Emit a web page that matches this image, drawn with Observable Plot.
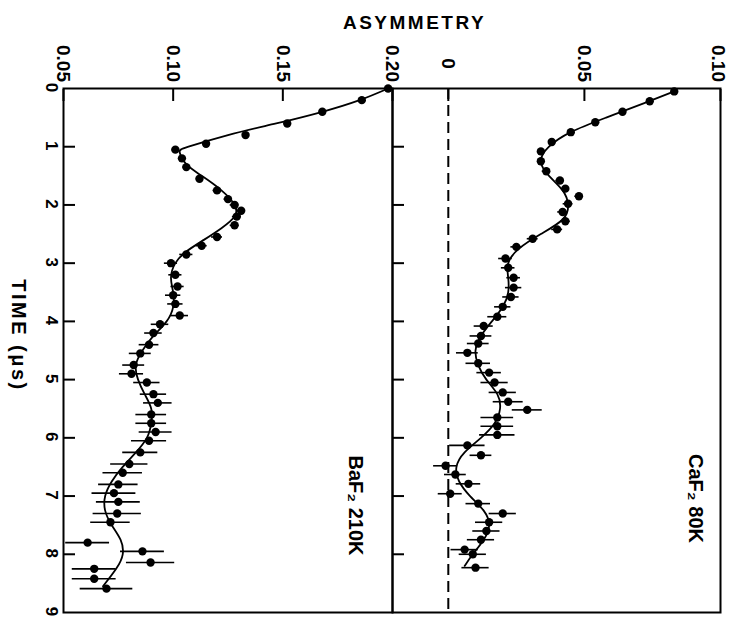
<!DOCTYPE html>
<html>
<head>
<meta charset="utf-8">
<script src="https://cdn.jsdelivr.net/npm/d3@7"></script>
<script src="https://cdn.jsdelivr.net/npm/@observablehq/plot@0.6"></script>
<style>
  html, body { margin: 0; padding: 0; background: #fff; overflow: hidden; }
  #chart { position: relative; width: 729px; height: 618px; }
  #chart svg { position: absolute; left: 0; top: 0; }
</style>
</head>
<body>
<div id="chart"></div>
<script>
// Muon spin asymmetry vs time, BaF2 at 210 K and CaF2 at 80 K

// --- BaF2 210K: measured points (time in µs, asymmetry, error)
const bafTime = [0.00, 0.20, 0.40, 0.60, 0.80, 0.95, 1.05, 1.20, 1.35, 1.55, 1.75, 1.90, 2.00, 2.10, 2.20, 2.35,
  2.55, 2.70, 2.85, 3.00, 3.20, 3.40, 3.55, 3.70, 3.90, 4.05, 4.20, 4.40, 4.55, 4.75, 4.90, 5.05, 5.25, 5.40,
  5.60, 5.75, 5.90, 6.05, 6.25, 6.45, 6.60, 6.80, 6.95, 7.10, 7.30, 7.45, 7.80, 7.95, 8.14, 8.25, 8.42, 8.59];
const bafAsym = [0.198, 0.186, 0.168, 0.152, 0.133, 0.115, 0.101, 0.104, 0.106, 0.112, 0.120, 0.125, 0.128, 0.131, 0.129, 0.128,
  0.120, 0.113, 0.106, 0.099, 0.101, 0.102, 0.100, 0.101, 0.103, 0.094, 0.091, 0.089, 0.085, 0.082, 0.081, 0.088, 0.091, 0.093,
  0.090, 0.090, 0.092, 0.089, 0.085, 0.080, 0.077, 0.075, 0.073, 0.075, 0.0745, 0.0714, 0.061, 0.086, 0.0897, 0.064, 0.064, 0.0696];
const bafErr = [0.001, 0.001, 0.001, 0.0012, 0.0012, 0.0012, 0.0015, 0.0015, 0.0015, 0.0015, 0.0018, 0.0018, 0.002, 0.002, 0.002, 0.002,
  0.0025, 0.0025, 0.003, 0.003, 0.003, 0.003, 0.0035, 0.0035, 0.004, 0.004, 0.004, 0.0045, 0.005, 0.005, 0.0055, 0.006, 0.006, 0.0065,
  0.007, 0.007, 0.0075, 0.008, 0.008, 0.0085, 0.009, 0.009, 0.010, 0.010, 0.011, 0.009, 0.010, 0.010, 0.011, 0.010, 0.010, 0.012];

// --- BaF2 210K: fitted curve
const bafFitTime = [0.00, 0.20, 0.40, 0.60, 0.80, 1.00, 1.10, 1.30, 1.50, 1.75, 2.00, 2.20, 2.40, 2.60, 2.80, 3.00, 3.25,
  3.50, 3.75, 4.00, 4.25, 4.50, 4.75, 5.00, 5.25, 5.50, 5.75, 6.00, 6.25, 6.50, 6.75, 7.00, 7.25, 7.50, 7.75, 8.00, 8.25, 8.55];
const bafFitAsym = [0.198, 0.185, 0.168, 0.147, 0.125, 0.107, 0.103, 0.106, 0.113, 0.122, 0.128, 0.128, 0.122, 0.114, 0.106, 0.101, 0.099,
  0.100, 0.100, 0.097, 0.091, 0.086, 0.083, 0.084, 0.087, 0.090, 0.090, 0.088, 0.083, 0.077, 0.072, 0.069, 0.069, 0.072, 0.076, 0.077, 0.074, 0.068];

// --- CaF2 80K: measured points
const cafTime = [0.05, 0.22, 0.40, 0.58, 0.75, 0.92, 1.08, 1.25, 1.42, 1.58, 1.72, 1.85, 1.98, 2.12, 2.28, 2.42, 2.58, 2.72,
  2.92, 3.08, 3.25, 3.42, 3.58, 3.75, 3.92, 4.08, 4.25, 4.38, 4.54, 4.72, 4.88, 5.05, 5.22, 5.38, 5.52, 5.65, 5.80, 5.95,
  6.13, 6.30, 6.48, 6.63, 6.79, 6.96, 7.13, 7.30, 7.45, 7.60, 7.75, 7.92, 8.00, 8.23];
const cafAsym = [0.083, 0.074, 0.064, 0.054, 0.045, 0.038, 0.034, 0.034, 0.036, 0.041, 0.043, 0.048, 0.044, 0.042, 0.043, 0.040, 0.031, 0.025,
  0.021, 0.022, 0.024, 0.024, 0.023, 0.020, 0.018, 0.013, 0.012, 0.011, 0.007, 0.011, 0.015, 0.017, 0.020, 0.022, 0.029, 0.018, 0.018, 0.018,
  0.007, 0.012, -0.001, 0.0026, 0.0074, 0.0007, 0.011, 0.020, 0.015, 0.014, 0.012, 0.006, 0.009, 0.010];
const cafErr = [0.001, 0.001, 0.001, 0.001, 0.0012, 0.0012, 0.0012, 0.0012, 0.0015, 0.0015, 0.0015, 0.0015, 0.0018, 0.0018, 0.0018, 0.002, 0.002, 0.002,
  0.0025, 0.0025, 0.0025, 0.003, 0.003, 0.003, 0.0035, 0.0035, 0.004, 0.004, 0.004, 0.0045, 0.0045, 0.005, 0.005, 0.0055, 0.0055, 0.006, 0.006, 0.0065,
  0.0065, 0.004, 0.0044, 0.004, 0.0045, 0.0044, 0.0045, 0.005, 0.005, 0.005, 0.005, 0.005, 0.005, 0.005];

// --- CaF2 80K: fitted curve
const cafFitTime = [0.05, 0.25, 0.50, 0.75, 1.00, 1.25, 1.50, 1.75, 2.00, 2.25, 2.50, 2.75, 3.00, 3.25, 3.50, 3.75, 4.00,
  4.25, 4.50, 4.75, 5.00, 5.25, 5.50, 5.75, 6.00, 6.25, 6.50, 6.75, 7.00, 7.25, 7.50, 7.75, 8.00, 8.20];
const cafFitAsym = [0.083, 0.072, 0.058, 0.045, 0.037, 0.034, 0.037, 0.042, 0.044, 0.042, 0.034, 0.026, 0.022, 0.022, 0.022, 0.020, 0.016,
  0.012, 0.010, 0.011, 0.014, 0.018, 0.019, 0.017, 0.012, 0.006, 0.003, 0.004, 0.008, 0.013, 0.015, 0.013, 0.009, 0.006];

// --- axis ticks and labels
const timeTicks = [0, 1, 2, 3, 4, 5, 6, 7, 8, 9];
const timeLabels = ["0", "1", "2", "3", "4", "5", "6", "7", "8", "9"];
const bafTicks = [0.05, 0.10, 0.15, 0.20];
const bafLabels = ["0.05", "0.10", "0.15", "0.20"];
const cafTicks = [0, 0.05, 0.10];
const cafLabels = ["0", "0.05", "0.10"];
const bafDomain = [0.05, 0.20];
const cafDomain = [-0.0205, 0.10];

const bafPoints = bafTime.map((t, i) => ({t, a: bafAsym[i], e: bafErr[i]}));
const bafFit = bafFitTime.map((t, i) => ({t, a: bafFitAsym[i]}));
const cafPoints = cafTime.map((t, i) => ({t, a: cafAsym[i], e: cafErr[i]}));
const cafFit = cafFitTime.map((t, i) => ({t, a: cafFitAsym[i]}));
const cafTickItems = cafTicks.map((v, i) => ({v, label: cafLabels[i], edge: i === cafTicks.length - 1}));

const W = 729, H = 618;
const font = "'Liberation Sans', Arial, Helvetica, sans-serif";
const centered = {textAnchor: "middle", lineAnchor: "middle"};

function panel({domain, marginLeft, marginRight, marks}) {
  return Plot.plot({
    width: W, height: H,
    marginTop: 88, marginBottom: 6, marginLeft, marginRight,
    x: {domain},
    y: {domain: [0, 9], reverse: true},
    style: {background: "transparent", fontFamily: font, fontWeight: "bold", color: "black", overflow: "visible"},
    marks
  });
}

function dataMarks(points, fit) {
  return [
    Plot.ruleY(points, {y: "t", x1: d => d.a - d.e, x2: d => d.a + d.e, strokeWidth: 1.6}),
    Plot.line(fit, {x: "a", y: "t", curve: "natural", strokeWidth: 1.8}),
    Plot.dot(points, {x: "a", y: "t", r: 4.2, fill: "black"})
  ];
}

// left panel: BaF2 210K, with the time axis
const left = panel({
  domain: bafDomain, marginLeft: 63, marginRight: W - 392,
  marks: [
    Plot.axisX(bafTicks, {anchor: "top", tickSize: 12, dy: 12, tickFormat: () => "", label: null, strokeWidth: 2}),
    Plot.axisY(timeTicks.slice(1, -1), {anchor: "left", tickSize: 12, dx: 12, tickFormat: () => "", label: null, strokeWidth: 2}),
    Plot.text(bafTicks, {x: d => d, frameAnchor: "top", dy: -25, rotate: 90, text: (d, i) => bafLabels[i], fontSize: 19, ...centered}),
    Plot.text(timeTicks, {y: d => d, frameAnchor: "left", dx: -12, dy: -1, rotate: 90, text: (d, i) => timeLabels[i], fontSize: 17, ...centered}),
    Plot.text(["TIME (\u03bcs)"], {frameAnchor: "left", dx: -45, dy: -15, rotate: 90, fontSize: 20, ...centered}),
    Plot.text(["BaF\u2082 210K"], {frameAnchor: "right", dx: -37, dy: 155, rotate: 90, fontSize: 20, ...centered}),
    ...dataMarks(bafPoints, bafFit),
    Plot.frame({strokeWidth: 2})
  ]
});

// right panel: CaF2 80K, with the dashed zero line
const right = panel({
  domain: cafDomain, marginLeft: 392, marginRight: 9,
  marks: [
    Plot.ruleX([0], {strokeDasharray: "11,6", strokeWidth: 2}),
    Plot.axisX(cafTicks, {anchor: "top", tickSize: 12, dy: 12, tickFormat: () => "", label: null, strokeWidth: 2}),
    Plot.axisY(timeTicks.slice(1, -1), {anchor: "left", tickSize: 12, dx: 12, tickFormat: () => "", label: null, strokeWidth: 2}),
    Plot.text(cafTickItems.filter(d => !d.edge), {x: "v", frameAnchor: "top", dy: -25, rotate: 90, text: "label", fontSize: 19, ...centered}),
    // the label at the panel's right edge sits a touch inside the page
    Plot.text(cafTickItems.filter(d => d.edge), {x: "v", frameAnchor: "top", dx: -2, dy: -25, rotate: 90, text: "label", fontSize: 19, ...centered}),
    Plot.text(["ASYMMETRY"], {frameAnchor: "top-left", dx: 22, dy: -66, fontSize: 19, ...centered}),
    Plot.text(["CaF\u2082 80K"], {frameAnchor: "right", dx: -25, dy: 148, rotate: 90, fontSize: 20, ...centered}),
    ...dataMarks(cafPoints, cafFit),
    Plot.frame({strokeWidth: 2})
  ]
});

d3.select(right).selectAll("text").filter(function() { return this.textContent === "ASYMMETRY"; })
  .attr("letter-spacing", 2.5);
d3.select(left).selectAll("text").filter(function() { return this.textContent === "TIME (\u03bcs)"; })
  .attr("letter-spacing", 2.5);

const chart = document.getElementById("chart");
chart.appendChild(left);
chart.appendChild(right);
</script>
</body>
</html>
